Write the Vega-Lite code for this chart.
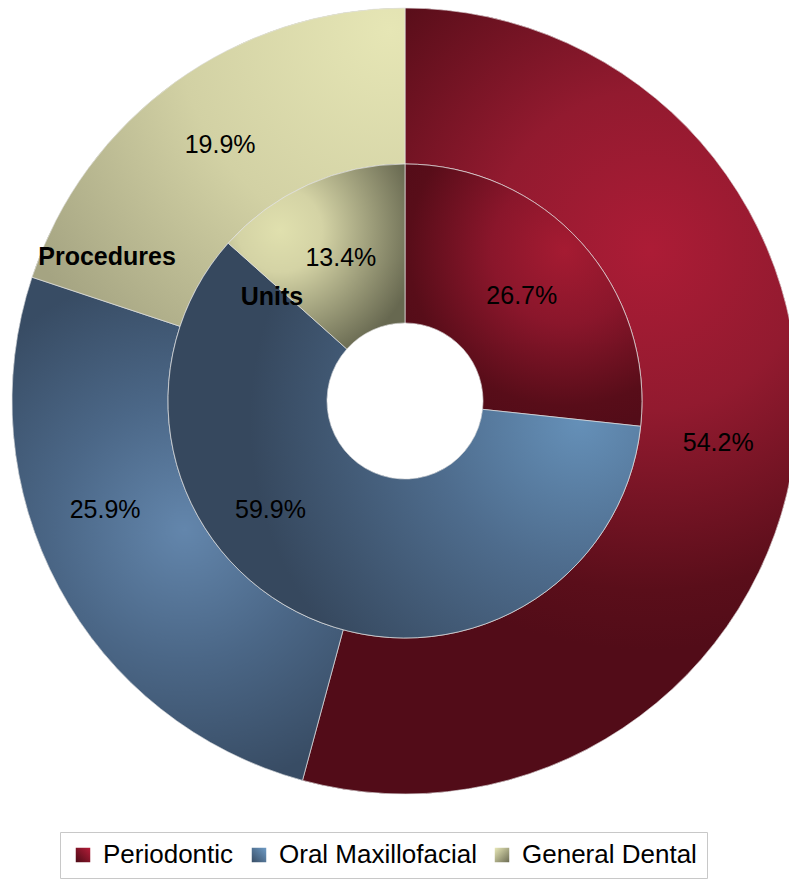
{
  "$schema": "https://vega.github.io/schema/vega-lite/v6.json",
  "width": 789,
  "height": 802,
  "autosize": {"type": "none"},
  "padding": {"left": 0, "top": 0, "right": 0, "bottom": 82},
  "background": "#ffffff",
  "config": {"view": {"stroke": null}},
  "data": {
    "values": [
      {"ring": "Procedures", "cat": "Periodontic", "share": 0.542, "o": 1},
      {"ring": "Procedures", "cat": "Oral Maxillofacial", "share": 0.259, "o": 2},
      {"ring": "Procedures", "cat": "General Dental", "share": 0.199, "o": 3},
      {"ring": "Units", "cat": "Periodontic", "share": 0.267, "o": 1},
      {"ring": "Units", "cat": "Oral Maxillofacial", "share": 0.599, "o": 2},
      {"ring": "Units", "cat": "General Dental", "share": 0.134, "o": 3}
    ]
  },
  "encoding": {
    "theta": {"field": "share", "type": "quantitative", "stack": true, "scale": {"domain": [0, 1]}},
    "order": {"field": "o", "type": "quantitative"}
  },
  "layer": [
    {
      "transform": [{"filter": "datum.ring === 'Procedures'"}],
      "mark": {"type": "arc", "radius": 393, "radius2": 237, "x": 405, "y": 401},
      "encoding": {
        "color": {
          "field": "cat", "type": "nominal",
          "scale": {
            "domain": ["Periodontic", "Oral Maxillofacial", "General Dental"],
            "range": [
              {"expr": "{gradient: 'linear', x1: 1, y1: 0, x2: 0, y2: 1, stops: [{offset: 0, color: '#b41d39'}, {offset: 1, color: '#4c0b16'}]}"},
              {"expr": "{gradient: 'linear', x1: 1, y1: 0, x2: 0, y2: 1, stops: [{offset: 0, color: '#6e9bc5'}, {offset: 1, color: '#394e66'}]}"},
              {"expr": "{gradient: 'linear', x1: 0, y1: 0, x2: 1, y2: 1, stops: [{offset: 0, color: '#e8e8b8'}, {offset: 1, color: '#6c6c53'}]}"}
            ]
          },
          "legend": {
            "title": null, "orient": "none", "legendX": 60, "legendY": 832, "direction": "horizontal",
            "symbolType": "square", "symbolSize": 210, "symbolStrokeWidth": 0,
            "labelFont": "Liberation Sans", "labelFontSize": 26, "labelColor": "#000000",
            "labelOffset": 7, "columnPadding": 12, "padding": 10, "strokeColor": "#c8c8c8", "labelLimit": 400
          }
        }
      }
    },
    {
      "transform": [{"filter": "datum.ring === 'Units'"}],
      "mark": {"type": "arc", "radius": 237, "radius2": 78, "x": 405, "y": 401},
      "encoding": {"color": {"field": "cat", "type": "nominal"}}
    },
    {
      "transform": [{"filter": "datum.ring === 'Procedures'"}],
      "mark": {"type": "arc", "radius": 393, "radius2": 237, "x": 405, "y": 401, "stroke": "#e2e2e2", "strokeWidth": 0.7},
      "encoding": {
        "fill": {
          "condition": [
            {"test": "datum.cat === 'Periodontic'", "value": {"gradient": "radial", "x1": 0.627, "y1": 0.308, "r1": 0, "x2": 0.627, "y2": 0.308, "r2": 0.509, "stops": [{"offset": 0, "color": "#ac1c36"}, {"offset": 0.4, "color": "#921a2f"}, {"offset": 0.85, "color": "#5a0e1a"}, {"offset": 1, "color": "#520c18"}]}},
            {"test": "datum.cat === 'Oral Maxillofacial'", "value": {"gradient": "radial", "x1": 0.514, "y1": 0.502, "r1": 0, "x2": 0.514, "y2": 0.502, "r2": 0.516, "stops": [{"offset": 0, "color": "#6386ac"}, {"offset": 0.5, "color": "#4b6787"}, {"offset": 1, "color": "#384c64"}]}}
          ],
          "value": {"gradient": "radial", "x1": 0.96, "y1": 0.133, "r1": 0, "x2": 0.96, "y2": 0.133, "r2": 1.126, "stops": [{"offset": 0, "color": "#e6e6b5"}, {"offset": 0.5, "color": "#d2d1a4"}, {"offset": 1, "color": "#a5a482"}]}
        }
      }
    },
    {
      "transform": [{"filter": "datum.ring === 'Units'"}],
      "mark": {"type": "arc", "radius": 237, "radius2": 78, "x": 405, "y": 401, "stroke": "#e2e2e2", "strokeWidth": 0.7},
      "encoding": {
        "fill": {
          "condition": [
            {"test": "datum.cat === 'Periodontic'", "value": {"gradient": "radial", "x1": 0.658, "y1": 0.328, "r1": 0, "x2": 0.658, "y2": 0.328, "r2": 0.7, "stops": [{"offset": 0, "color": "#a51b32"}, {"offset": 0.4, "color": "#8a162b"}, {"offset": 0.85, "color": "#580d19"}, {"offset": 1, "color": "#530c18"}]}},
            {"test": "datum.cat === 'Oral Maxillofacial'", "value": {"gradient": "radial", "x1": 0.871, "y1": 0.457, "r1": 0, "x2": 0.871, "y2": 0.457, "r2": 0.698, "stops": [{"offset": 0, "color": "#6590b8"}, {"offset": 0.45, "color": "#4e6c8d"}, {"offset": 1, "color": "#36485e"}]}}
          ],
          "value": {"gradient": "radial", "x1": 0.303, "y1": 0.357, "r1": 0, "x2": 0.303, "y2": 0.357, "r2": 0.757, "stops": [{"offset": 0, "color": "#e0e0ae"}, {"offset": 0.3, "color": "#d4d3a5"}, {"offset": 1, "color": "#676850"}]}
        }
      }
    },
    {
      "transform": [{"filter": "datum.ring === 'Procedures'"}],
      "mark": {"type": "text", "radius": 316, "x": 405, "y": 401, "font": "Liberation Sans", "fontSize": 25, "color": "#000000"},
      "encoding": {"text": {"condition": {"test": "datum.cat === 'Oral Maxillofacial'", "value": ""}, "field": "share", "type": "quantitative", "format": ".1%"}}
    },
    {
      "transform": [{"filter": "datum.ring === 'Procedures'"}],
      "mark": {"type": "text", "radius": 319, "thetaOffset": 0.145, "x": 405, "y": 401, "font": "Liberation Sans", "fontSize": 25, "color": "#000000"},
      "encoding": {"text": {"condition": {"test": "datum.cat !== 'Oral Maxillofacial'", "value": ""}, "field": "share", "type": "quantitative", "format": ".1%"}}
    },
    {
      "transform": [{"filter": "datum.ring === 'Units'"}],
      "mark": {"type": "text", "radius": 157, "x": 405, "y": 401, "font": "Liberation Sans", "fontSize": 25, "color": "#000000"},
      "encoding": {"text": {"condition": {"test": "datum.cat === 'Oral Maxillofacial'", "value": ""}, "field": "share", "type": "quantitative", "format": ".1%"}}
    },
    {
      "transform": [{"filter": "datum.ring === 'Units'"}],
      "mark": {"type": "text", "radius": 173, "thetaOffset": 0.473, "x": 405, "y": 401, "font": "Liberation Sans", "fontSize": 25, "color": "#000000"},
      "encoding": {"text": {"condition": {"test": "datum.cat !== 'Oral Maxillofacial'", "value": ""}, "field": "share", "type": "quantitative", "format": ".1%"}}
    },
    {
      "transform": [{"filter": "datum.ring === 'Procedures'"}],
      "mark": {"type": "text", "radius": 331, "thetaOffset": -0.495, "x": 405, "y": 401, "font": "Liberation Sans", "fontSize": 25, "fontWeight": "bold", "color": "#000000"},
      "encoding": {"text": {"condition": {"test": "datum.cat !== 'General Dental'", "value": ""}, "field": "ring", "type": "nominal"}}
    },
    {
      "transform": [{"filter": "datum.ring === 'Units'"}],
      "mark": {"type": "text", "radius": 169, "thetaOffset": -0.486, "x": 405, "y": 401, "font": "Liberation Sans", "fontSize": 25, "fontWeight": "bold", "color": "#000000"},
      "encoding": {"text": {"condition": {"test": "datum.cat !== 'General Dental'", "value": ""}, "field": "ring", "type": "nominal"}}
    }
  ]
}
